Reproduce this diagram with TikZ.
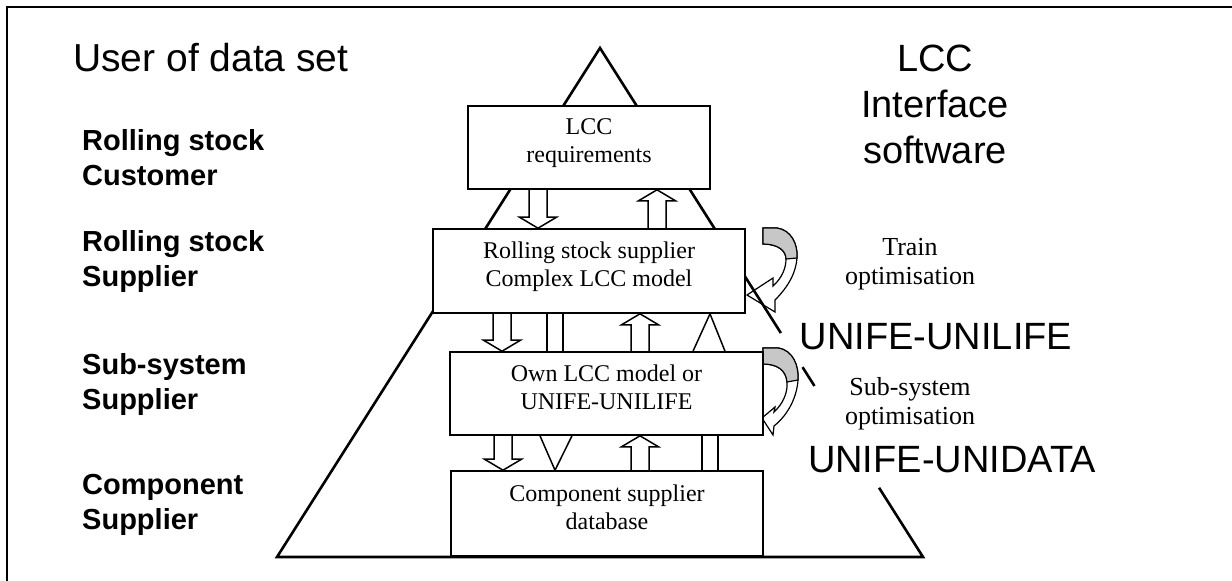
\documentclass[tikz,border=0pt]{standalone}
\usepackage{fontspec}
\setmainfont{Liberation Serif}
\setsansfont{Liberation Sans}
\usetikzlibrary{calc}

% hollow block arrows between two boxes
\newcommand{\arrdown}[3]{%
  \path (#1,0 |- #2.south) coordinate (at) (#1,0 |- #3.north) coordinate (ah);
  \draw[blk] ($(at)+(-9,0)$) -- ($(ah)+(-9,-11)$) -- ($(ah)+(-18.5,-11)$) -- (ah) -- ($(ah)+(18.5,-11)$) -- ($(ah)+(9,-11)$) -- ($(at)+(9,0)$);}
\newcommand{\arrup}[3]{%
  \path (#1,0 |- #2.south) coordinate (ah) (#1,0 |- #3.north) coordinate (at);
  \draw[blk] ($(at)+(-9,0)$) -- ($(ah)+(-9,11)$) -- ($(ah)+(-18.5,11)$) -- (ah) -- ($(ah)+(18.5,11)$) -- ($(ah)+(9,11)$) -- ($(at)+(9,0)$);}
% lifts box text a little
\newcommand{\lift}{\rule[-13pt]{0pt}{13pt}}

\begin{document}
\begin{tikzpicture}[x=1pt,y=-1pt,line join=miter,
  box/.style={draw,line width=1.6pt,fill=white,align=center,inner sep=0pt,font=\fontsize{24}{28}\selectfont},
  lvl/.style={anchor=west,align=left,inner sep=0pt,font=\sffamily\bfseries\fontsize{29}{35}\selectfont},
  big/.style={align=center,inner sep=0pt,font=\sffamily\fontsize{38}{46}\selectfont},
  opt/.style={align=center,inner sep=0pt,font=\fontsize{26}{29}\selectfont},
  blk/.style={line width=1.5pt},
  leg/.style={line width=2.6pt}]
\useasboundingbox (0,0) rectangle (1232,581);
% frame
\draw[line width=2.2pt] (7,581) -- (7,7) -- (1232,7);
% curved arrows (optimisation loops)
\begin{scope}[shift={(763,228)},line width=1.2pt]
\draw[fill=white] (0,0) -- (14,0) .. controls (28,2) and (35,16) .. (34,30) .. controls (33,44) and (26,58) .. (12,72) -- (12,84) -- (-16,67) -- (10,50) -- (10,58) .. controls (19,50) and (23,40) .. (23,31) .. controls (23,22) and (14,16) .. (0,16) -- cycle;
\draw[fill=black!22] (0,0) -- (14,0) .. controls (28,2) and (35,16) .. (34,30) -- (23,31) .. controls (23,22) and (14,16) .. (0,16) -- cycle;
\end{scope}
\begin{scope}[shift={(763,348)},line width=1.2pt]
\draw[fill=white] (0,0) -- (15,0) .. controls (30,2) and (36,18) .. (35,32) .. controls (34,48) and (26,66) .. (11,78) -- (10,87) -- (-1,70) -- (12,59) -- (11,64) .. controls (20,56) and (25,44) .. (24,34) .. controls (23,22) and (14,16) .. (0,16) -- cycle;
\draw[fill=black!22] (0,0) -- (15,0) .. controls (30,2) and (36,18) .. (35,32) -- (24,34) .. controls (23,22) and (14,16) .. (0,16) -- cycle;
\end{scope}
% pyramid
\coordinate (apex) at (600,48);
\coordinate (bl) at (277,557);
\coordinate (br) at (923,557);
\draw[leg] ($(apex)!0.864!(br)$) -- (br) -- (bl) -- (apex) -- ($(apex)!0.56!(br)$);
\draw[leg] ($(apex)!0.627!(br)$) -- ($(apex)!0.664!(br)$);
% levels
\node[box,minimum width=242,minimum height=83] (req) at (589,147.5) {LCC\\requirements\lift};
\node[box,minimum width=312,minimum height=84] (rss) at (589,271) {Rolling stock supplier\\Complex LCC model\lift};
\node[box,minimum width=313,minimum height=83] (own) at (606.5,393.5) {Own LCC model or\\UNIFE-UNILIFE\lift};
\node[box,minimum width=312,minimum height=85] (comp) at (607,513.5) {Component supplier\\database\lift};
% data flow
\arrdown{538}{req}{rss}
\arrup{657}{req}{rss}
\arrdown{502}{rss}{own}
\arrup{640}{rss}{own}
\arrdown{503}{own}{comp}
\arrup{640}{own}{comp}
\draw[blk] (547,0 |- rss.south) -- (547,0 |- own.north) (563,0 |- rss.south) -- (563,0 |- own.north);
\draw[blk] (693,0 |- own.north) -- (710,0 |- rss.south) -- (725,0 |- own.north);
\draw[blk] (540,0 |- own.south) -- (555,0 |- comp.north) -- (572,0 |- own.south);
\draw[blk] (702,0 |- own.south) -- (702,0 |- comp.north) (718,0 |- own.south) -- (718,0 |- comp.north);
% users
\node[anchor=west,inner sep=0pt,font=\sffamily\fontsize{39}{46}\selectfont] (user) at (73,58) {User of data set};
\node[lvl] (cust) at (82,157.5) {Rolling stock\\Customer};
\node[lvl] (rsup) at (82,261.5) {Rolling stock\\Supplier};
\node[lvl] (ssup) at (82,384.5) {Sub-system\\Supplier};
\node[lvl] (csup) at (82,504.5) {Component\\Supplier};
% software
\node[big] (lcc) at (935,104) {LCC\\Interface\\software};
\node[opt] (train) at (910,264.5) {Train\\optimisation};
\node[big] (unilife) at (936,337) {UNIFE-UNILIFE};
\node[opt] (subopt) at (910,404) {Sub-system\\optimisation};
\node[big] (unidata) at (952,460) {UNIFE-UNIDATA};
\end{tikzpicture}
\end{document}
